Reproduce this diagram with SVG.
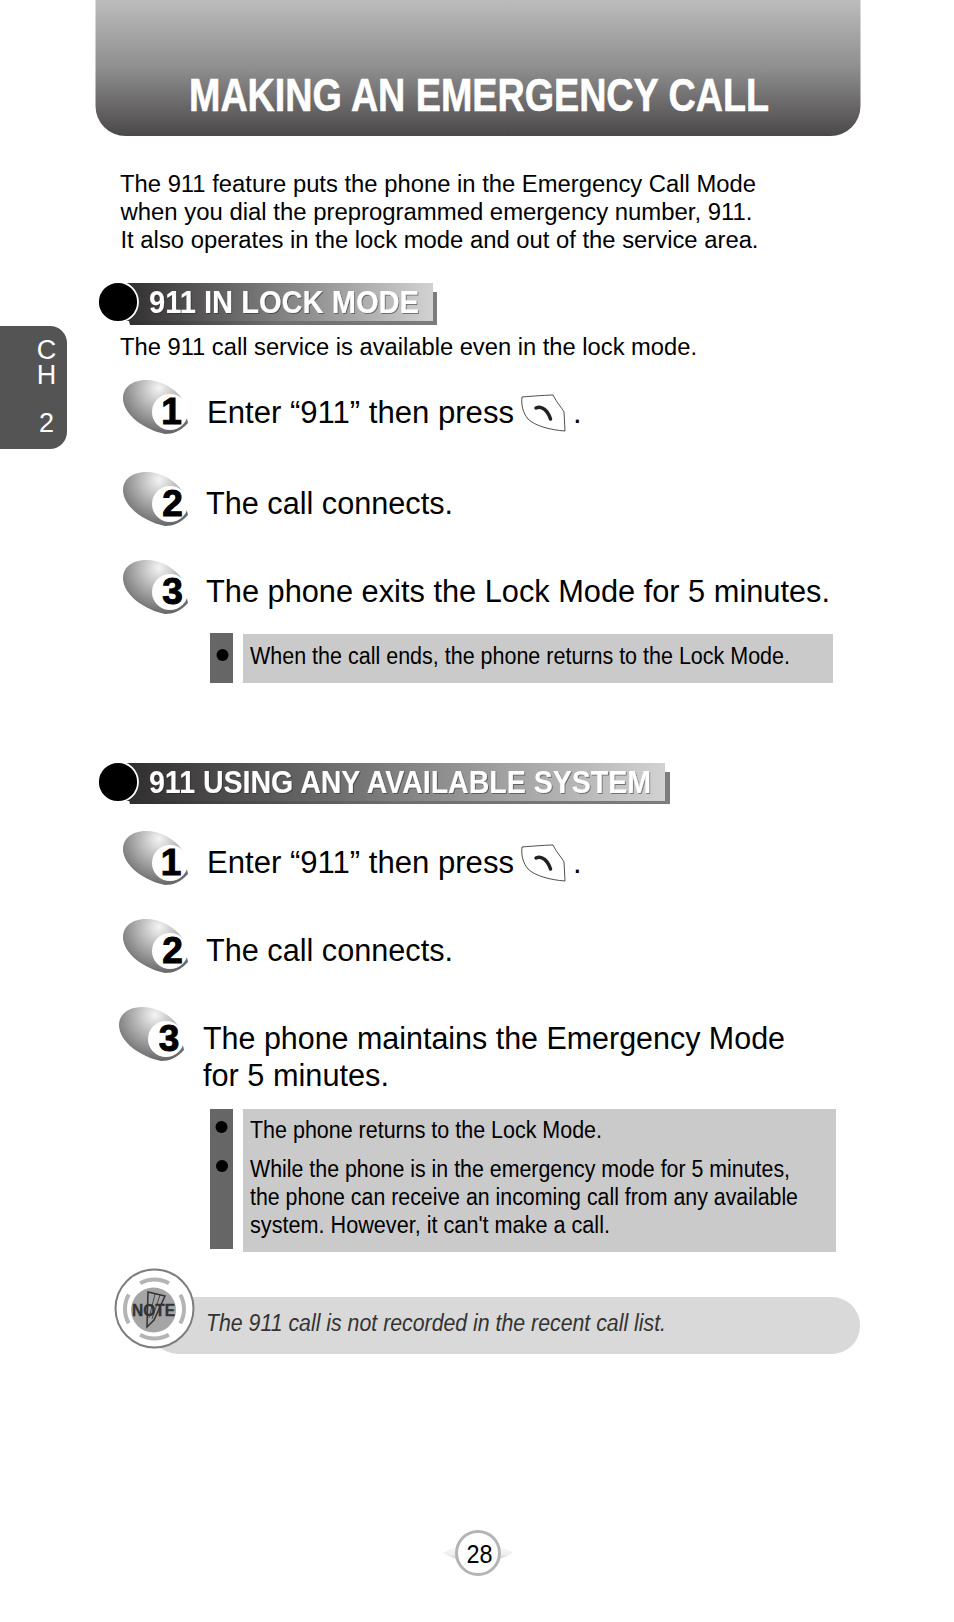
<svg xmlns="http://www.w3.org/2000/svg" width="954" height="1622" viewBox="0 0 954 1622">
<style>
text{font-family:"Liberation Sans",Arial,sans-serif;fill:#000}
.body{font-size:23.5px}
.step{font-size:31px}
.note{font-size:23px}
.head{font-size:31px;font-weight:bold;fill:#fff;filter:url(#heavy)}
.num{font-size:37px;font-weight:bold;stroke:#000;stroke-width:1}
</style>
<defs>
<linearGradient id="hdr" x1="0" y1="0" x2="0" y2="1"><stop offset="0" stop-color="#bdbcbd"/><stop offset=".5" stop-color="#8f8e8f"/><stop offset="1" stop-color="#4a4849"/></linearGradient>
<linearGradient id="bar" x1="0" y1="0" x2="1" y2="0"><stop offset="0" stop-color="#2e2c2d"/><stop offset="1" stop-color="#d2d2d2"/></linearGradient>
<linearGradient id="shade" x1="0" y1="0" x2="1" y2="0"><stop offset="0" stop-color="#2e2c2d"/><stop offset=".5" stop-color="#6e6e6e"/><stop offset="1" stop-color="#7d7d7d"/></linearGradient>
<radialGradient id="ball" gradientUnits="userSpaceOnUse" cx="36" cy="8" r="52"><stop offset="0" stop-color="#f4f4f4"/><stop offset=".4" stop-color="#b4b4b4"/><stop offset="1" stop-color="#555"/></radialGradient>
<linearGradient id="wing" x1="0" y1="0" x2="0" y2="1"><stop offset="0" stop-color="#fbfbfb"/><stop offset=".6" stop-color="#eeeeee"/><stop offset="1" stop-color="#bcbcbc"/></linearGradient>
<filter id="heavy" x="-5%" y="-20%" width="110%" height="140%">
<feMorphology in="SourceGraphic" operator="dilate" radius=".4" result="fat"/>
<feOffset in="fat" dx=".7" dy=".7" result="off"/>
<feFlood flood-color="#222" flood-opacity=".5"/>
<feComposite in2="off" operator="in" result="shadow"/>
<feMerge><feMergeNode in="shadow"/><feMergeNode in="fat"/></feMerge>
</filter>
<g id="badge">
<path d="M0 18C0 6 11 0 23 0C38 0 52 8 60 20L65 43C58 51 50 54 42 54C22 50 0 35 0 18Z" fill="url(#ball)"/>
<circle cx="47" cy="32" r="18" fill="#fff"/>
</g>
<g id="key">
<path d="M1 2C12 1 28 0 32 0C36 8 41 13 43 17L44 36C30 35 14 31 7 24C2 18 0 10 1 2Z" fill="#fff" stroke="#222" stroke-width=".8"/>
<path d="M15 13C21 10 27 16 29.500 24" fill="none" stroke="#222" stroke-width="3.500" stroke-linecap="round"/>
</g>
</defs>

<g id="header">
<path d="M95.500 0H860.500V106A30 30 0 0 1 830.500 136H125.500A30 30 0 0 1 95.500 106Z" fill="url(#hdr)"/>
<text x="189" y="111" font-size="46" font-weight="bold" style="fill:#fff" stroke="#fff" stroke-width=".6" textLength="580" lengthAdjust="spacingAndGlyphs">MAKING AN EMERGENCY CALL</text>
</g>

<g id="chapter-tab">
<path d="M0 326H50A17 17 0 0 1 67 343V432A17 17 0 0 1 50 449H0Z" fill="#555455"/>
<text x="46.500 46.500 46.500" y="359 384 432" font-size="27" text-anchor="middle" style="fill:#fff">CH2</text>
</g>

<g id="intro">
<text class="body" x="120" y="192" textLength="636" lengthAdjust="spacingAndGlyphs">The 911 feature puts the phone in the Emergency Call Mode</text>
<text class="body" x="120.500" y="220" textLength="632" lengthAdjust="spacingAndGlyphs">when you dial the preprogrammed emergency number, 911.</text>
<text class="body" x="120.500" y="248" textLength="638" lengthAdjust="spacingAndGlyphs">It also operates in the lock mode and out of the service area.</text>
</g>

<g id="section-lock">
<path d="M122 292H437V325H130Z" fill="url(#shade)"/>
<rect x="122" y="283" width="311" height="38" fill="url(#bar)"/>
<circle cx="118" cy="302" r="20" fill="#000" stroke="#fff" stroke-width="1.800"/>
<text class="head" x="149" y="313" textLength="270" lengthAdjust="spacingAndGlyphs">911 IN LOCK MODE</text>
<text class="body" x="120" y="355" textLength="577" lengthAdjust="spacingAndGlyphs">The 911 call service is available even in the lock mode.</text>
</g>

<g id="step-1a">
<use href="#badge" x="123" y="380"/>
<text class="num" x="171.500" y="424" text-anchor="middle">1</text>
<text class="step" x="207" y="423" textLength="307" lengthAdjust="spacingAndGlyphs">Enter “911” then press</text>
<use href="#key" x="521" y="395"/>
<text class="step" x="573" y="423">.</text>
</g>
<g id="step-2a">
<use href="#badge" x="123" y="472"/>
<text class="num" x="172.500" y="516" text-anchor="middle">2</text>
<text class="step" x="206" y="514" textLength="247" lengthAdjust="spacingAndGlyphs">The call connects.</text>
</g>
<g id="step-3a">
<use href="#badge" x="123" y="560"/>
<text class="num" x="172.500" y="604" text-anchor="middle">3</text>
<text class="step" x="206" y="602" textLength="624" lengthAdjust="spacingAndGlyphs">The phone exits the Lock Mode for 5 minutes.</text>
</g>
<g id="note-lock">
<rect x="210" y="633" width="23" height="50" fill="#666"/>
<circle cx="222.500" cy="655" r="6" fill="#000"/>
<rect x="243" y="634" width="590" height="49" fill="#cacaca"/>
<text class="note" x="250" y="664" textLength="540" lengthAdjust="spacingAndGlyphs">When the call ends, the phone returns to the Lock Mode.</text>
</g>

<g id="section-any">
<path d="M122 772H670V804H130Z" fill="url(#shade)"/>
<rect x="122" y="763" width="543" height="38" fill="url(#bar)"/>
<circle cx="118" cy="782" r="20" fill="#000" stroke="#fff" stroke-width="1.800"/>
<text class="head" x="149" y="793" textLength="502" lengthAdjust="spacingAndGlyphs">911 USING ANY AVAILABLE SYSTEM</text>
</g>

<g id="step-1b">
<use href="#badge" x="123" y="831"/>
<text class="num" x="171" y="875" text-anchor="middle">1</text>
<text class="step" x="207" y="873" textLength="307" lengthAdjust="spacingAndGlyphs">Enter “911” then press</text>
<use href="#key" x="521" y="845"/>
<text class="step" x="573" y="873">.</text>
</g>
<g id="step-2b">
<use href="#badge" x="123" y="919"/>
<text class="num" x="172.500" y="963" text-anchor="middle">2</text>
<text class="step" x="206" y="961" textLength="247" lengthAdjust="spacingAndGlyphs">The call connects.</text>
</g>
<g id="step-3b">
<use href="#badge" x="119" y="1007"/>
<text class="num" x="169" y="1051" text-anchor="middle">3</text>
<text class="step" x="203" y="1049" textLength="582" lengthAdjust="spacingAndGlyphs">The phone maintains the Emergency Mode</text>
<text class="step" x="203" y="1086" textLength="186" lengthAdjust="spacingAndGlyphs">for 5 minutes.</text>
</g>
<g id="note-any">
<rect x="210" y="1109" width="23" height="140" fill="#666"/>
<circle cx="221.500" cy="1127" r="6" fill="#000"/>
<circle cx="222" cy="1166" r="6" fill="#000"/>
<rect x="243" y="1109" width="593" height="143" fill="#cacaca"/>
<text class="note" x="250" y="1138" textLength="352" lengthAdjust="spacingAndGlyphs">The phone returns to the Lock Mode.</text>
<text class="note" x="250" y="1177" textLength="540" lengthAdjust="spacingAndGlyphs">While the phone is in the emergency mode for 5 minutes,</text>
<text class="note" x="250" y="1205" textLength="548" lengthAdjust="spacingAndGlyphs">the phone can receive an incoming call from any available</text>
<text class="note" x="250" y="1233" textLength="360" lengthAdjust="spacingAndGlyphs">system. However, it can't make a call.</text>
</g>

<g id="note-call">
<rect x="150" y="1297" width="710" height="57" rx="28" fill="#d9d9d9"/>
<circle cx="154.500" cy="1308.500" r="39" fill="#fff" stroke="#7d7d7d" stroke-width="2"/>
<circle cx="154.500" cy="1309" r="29.500" fill="none" stroke="#b4b4b4" stroke-width="4" stroke-dasharray="30 16.300" stroke-dashoffset="15"/>
<circle cx="153.500" cy="1310" r="22.500" fill="#a5a5a5"/>
<path d="M148 1292L165 1296L154 1320L147 1327Z" fill="none" stroke="#333" stroke-width="1.500"/>
<path d="M155 1294L149 1318M160 1295L152 1319" fill="none" stroke="#333" stroke-width=".8"/>
<text x="132" y="1316" font-size="16" font-weight="bold" style="fill:#333" stroke="#333" stroke-width=".4" textLength="43" lengthAdjust="spacingAndGlyphs">NOTE</text>
<text x="206" y="1331" font-size="23" font-style="italic" style="fill:#333" textLength="460" lengthAdjust="spacingAndGlyphs">The 911 call is not recorded in the recent call list.</text>
</g>

<g id="page-number">
<path d="M443 1553C452 1547 462 1545 470 1545V1561C462 1561 452 1558 443 1553Z" fill="url(#wing)"/>
<path d="M513 1553C504 1547 494 1545 486 1545V1561C494 1561 504 1558 513 1553Z" fill="url(#wing)"/>
<circle cx="478" cy="1553" r="21.500" fill="#fff" stroke="#b4b4b4" stroke-width="3"/>
<text x="466.500" y="1562.500" font-size="26" textLength="26" lengthAdjust="spacingAndGlyphs">28</text>
</g>

<g id="connectors"/>
</svg>
